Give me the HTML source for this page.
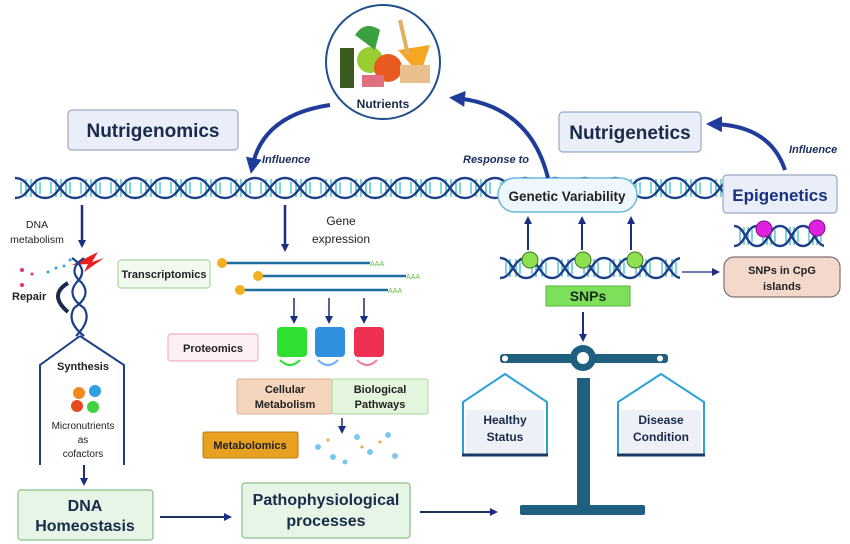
<!DOCTYPE html>
<html><head><meta charset="utf-8"><style>
html,body{margin:0;padding:0;background:#fff}
svg{display:block}
text{font-family:"Liberation Sans",sans-serif}
</style></head><body>
<svg width="850" height="544" viewBox="0 0 850 544" xmlns="http://www.w3.org/2000/svg">
<defs>
<pattern id="dna" x="15" y="176" width="60" height="24" patternUnits="userSpaceOnUse">
<g stroke="#2bb5c8" stroke-width="1.2"><line x1="6" y1="6" x2="6" y2="18"/><line x1="11" y1="3" x2="11" y2="21"/><line x1="16" y1="3" x2="16" y2="21"/><line x1="21" y1="3" x2="21" y2="21"/><line x1="25" y1="6" x2="25" y2="18"/><line x1="36" y1="6" x2="36" y2="18"/><line x1="41" y1="3" x2="41" y2="21"/><line x1="46" y1="3" x2="46" y2="21"/><line x1="51" y1="3" x2="51" y2="21"/><line x1="55" y1="6" x2="55" y2="18"/></g>
<path d="M0,2 C15,2 15,22 30,22 C45,22 45,2 60,2" fill="none" stroke="#1d3f8a" stroke-width="2.4"/>
<path d="M0,22 C15,22 15,2 30,2 C45,2 45,22 60,22" fill="none" stroke="#1d3f8a" stroke-width="2.4"/>
</pattern>
<pattern id="dna2" x="500" y="256" width="52" height="24" patternUnits="userSpaceOnUse">
<g stroke="#2bb5c8" stroke-width="1.2"><line x1="6" y1="6" x2="6" y2="18"/><line x1="10" y1="3" x2="10" y2="21"/><line x1="16" y1="3" x2="16" y2="21"/><line x1="20" y1="6" x2="20" y2="18"/><line x1="32" y1="6" x2="32" y2="18"/><line x1="36" y1="3" x2="36" y2="21"/><line x1="42" y1="3" x2="42" y2="21"/><line x1="46" y1="6" x2="46" y2="18"/></g>
<path d="M0,2 C13,2 13,22 26,22 C39,22 39,2 52,2" fill="none" stroke="#1d3f8a" stroke-width="2.4"/>
<path d="M0,22 C13,22 13,2 26,2 C39,2 39,22 52,22" fill="none" stroke="#1d3f8a" stroke-width="2.4"/>
</pattern>
<pattern id="dna3" x="734" y="224" width="46" height="24" patternUnits="userSpaceOnUse">
<g stroke="#2bb5c8" stroke-width="1.2"><line x1="6" y1="6" x2="6" y2="18"/><line x1="10" y1="3" x2="10" y2="21"/><line x1="14" y1="3" x2="14" y2="21"/><line x1="18" y1="6" x2="18" y2="18"/><line x1="29" y1="6" x2="29" y2="18"/><line x1="33" y1="3" x2="33" y2="21"/><line x1="37" y1="3" x2="37" y2="21"/><line x1="41" y1="6" x2="41" y2="18"/></g>
<path d="M0,2 C11.5,2 11.5,22 23,22 C34.5,22 34.5,2 46,2" fill="none" stroke="#1d3f8a" stroke-width="2.4"/>
<path d="M0,22 C11.5,22 11.5,2 23,2 C34.5,2 34.5,22 46,22" fill="none" stroke="#1d3f8a" stroke-width="2.4"/>
</pattern>
<marker id="ah" markerWidth="8" markerHeight="8" refX="6" refY="4" orient="auto" markerUnits="userSpaceOnUse"><path d="M0,0 L8,4 L0,8 Z" fill="#1a2f80"/></marker>
<marker id="ahb" markerWidth="16" markerHeight="16" refX="10" refY="8" orient="auto" markerUnits="userSpaceOnUse"><path d="M0,0 L16,8 L0,16 Z" fill="#1f3c9a"/></marker>
</defs>

<rect x="15" y="176" width="712" height="24" fill="url(#dna)"/>
<rect x="498" y="178" width="139" height="34" rx="17" fill="#eef8fc" stroke="#6bb8d8" stroke-width="1.5"/>
<text x="567" y="201" font-size="13.5" font-weight="bold" fill="#222" text-anchor="middle">Genetic Variability</text>

<circle cx="383" cy="62" r="57" fill="#fff" stroke="#1d4f8a" stroke-width="2"/>
<rect x="340" y="48" width="14" height="40" fill="#3a5a20"/>
<circle cx="370" cy="60" r="13" fill="#9acd32"/>
<circle cx="388" cy="68" r="14" fill="#e85a20"/>
<path d="M398,50 L430,45 L420,75 Z" fill="#f5a623"/>
<rect x="400" y="65" width="30" height="18" fill="#e8c090"/>
<rect x="362" y="75" width="22" height="12" fill="#e07080"/>
<path d="M355,35 Q365,20 380,30 L375,50 Z" fill="#3aa040"/>
<path d="M400,20 L408,55" stroke="#e0b060" stroke-width="4"/>
<text x="383" y="108" font-size="12" font-weight="bold" fill="#1a2a4a" text-anchor="middle">Nutrients</text>

<rect x="68" y="110" width="170" height="40" rx="4" fill="#e9eef8" stroke="#9aa8c0" stroke-width="1.2"/>
<text x="153" y="137" font-size="19" font-weight="bold" fill="#1a2a4a" text-anchor="middle">Nutrigenomics</text>
<rect x="559" y="112" width="142" height="40" rx="4" fill="#e9eef8" stroke="#9aa8c0" stroke-width="1.2"/>
<text x="630" y="139" font-size="19" font-weight="bold" fill="#1a2a4a" text-anchor="middle">Nutrigenetics</text>

<path d="M330,105 Q262,115 252,168" fill="none" stroke="#1f3c9a" stroke-width="4" marker-end="url(#ahb)"/>
<text x="262" y="163" font-size="11" font-style="italic" font-weight="bold" fill="#1a2f60">Influence</text>
<path d="M548,178 Q530,105 455,98" fill="none" stroke="#1f3c9a" stroke-width="4" marker-end="url(#ahb)"/>
<text x="463" y="163" font-size="11" font-style="italic" font-weight="bold" fill="#1a2f60">Response to</text>
<path d="M785,170 Q770,125 712,124" fill="none" stroke="#1f3c9a" stroke-width="4" marker-end="url(#ahb)"/>
<text x="789" y="153" font-size="11" font-style="italic" font-weight="bold" fill="#1a2f60">Influence</text>

<rect x="723" y="175" width="114" height="38" rx="4" fill="#e9eef8" stroke="#9aa8c0" stroke-width="1.2"/>
<text x="780" y="201" font-size="17" font-weight="bold" fill="#1a2f80" text-anchor="middle">Epigenetics</text>
<rect x="734" y="224" width="90" height="24" fill="url(#dna3)"/>
<circle cx="764" cy="229" r="8" fill="#e020e0" stroke="#80108a"/>
<circle cx="817" cy="228" r="8" fill="#e020e0" stroke="#80108a"/>

<rect x="500" y="256" width="180" height="24" fill="url(#dna2)"/>
<circle cx="530" cy="260" r="8" fill="#8de050" stroke="#3a7a20"/>
<circle cx="583" cy="260" r="8" fill="#8de050" stroke="#3a7a20"/>
<circle cx="635" cy="260" r="8" fill="#8de050" stroke="#3a7a20"/>
<g stroke="#1a2f80" stroke-width="2" marker-end="url(#ah)">
<line x1="528" y1="250" x2="528" y2="218"/><line x1="582" y1="250" x2="582" y2="218"/><line x1="631" y1="250" x2="631" y2="218"/>
<line x1="682" y1="272" x2="718" y2="272" stroke-width="1.2"/>
<line x1="583" y1="312" x2="583" y2="340"/>
</g>
<rect x="546" y="286" width="84" height="20" fill="#7de05a" stroke="#5ab040"/>
<text x="588" y="301" font-size="14" font-weight="bold" fill="#1a2a1a" text-anchor="middle">SNPs</text>
<rect x="724" y="257" width="116" height="40" rx="10" fill="#f3d8cc" stroke="#807070" stroke-width="1.2"/>
<text x="782" y="274" font-size="11" font-weight="bold" fill="#222" text-anchor="middle">SNPs in CpG</text>
<text x="782" y="290" font-size="11" font-weight="bold" fill="#222" text-anchor="middle">islands</text>

<rect x="500" y="354" width="168" height="9" rx="3" fill="#1f5f80"/>
<circle cx="505" cy="358.5" r="3" fill="#fff"/><circle cx="660" cy="358.5" r="3" fill="#fff"/>
<circle cx="583" cy="358" r="13" fill="#1f5f80"/><circle cx="583" cy="358" r="6" fill="#fff"/>
<rect x="577" y="378" width="13" height="132" fill="#1f5f80"/>
<rect x="520" y="505" width="125" height="10" rx="2" fill="#1f5f80"/>
<path d="M463,455 L463,402 L505,374 L547,402 L547,455" fill="none" stroke="#2a9fd8" stroke-width="2"/>
<rect x="466" y="410" width="78" height="44" fill="#eef0f8"/>
<line x1="462" y1="455" x2="548" y2="455" stroke="#1a3a60" stroke-width="3"/>
<text x="505" y="424" font-size="12" font-weight="bold" fill="#1a2a4a" text-anchor="middle">Healthy</text>
<text x="505" y="441" font-size="12" font-weight="bold" fill="#1a2a4a" text-anchor="middle">Status</text>
<path d="M618,455 L618,402 L661,374 L704,402 L704,455" fill="none" stroke="#2a9fd8" stroke-width="2"/>
<rect x="621" y="410" width="80" height="44" fill="#eef0f8"/>
<line x1="617" y1="455" x2="705" y2="455" stroke="#1a3a60" stroke-width="3"/>
<text x="661" y="424" font-size="12" font-weight="bold" fill="#1a2a4a" text-anchor="middle">Disease</text>
<text x="661" y="441" font-size="12" font-weight="bold" fill="#1a2a4a" text-anchor="middle">Condition</text>

<text x="37" y="228" font-size="10.5" fill="#222" text-anchor="middle">DNA</text>
<text x="37" y="243" font-size="10.5" fill="#222" text-anchor="middle">metabolism</text>
<line x1="82" y1="205" x2="82" y2="246" stroke="#1a2f80" stroke-width="2.5" marker-end="url(#ah)"/>
<path d="M72,265 L98,252 L92,262 L104,258 L84,272 L88,264 Z" fill="#e82020"/>
<g fill="#e8306a"><circle cx="22" cy="270" r="2"/><circle cx="32" cy="274" r="1.5"/><circle cx="22" cy="285" r="2"/></g>
<g fill="#30a8d8"><circle cx="48" cy="272" r="1.5"/><circle cx="56" cy="268" r="1.5"/><circle cx="64" cy="266" r="1.5"/><circle cx="70" cy="260" r="1.5"/></g>
<text x="12" y="300" font-size="11" font-weight="bold" fill="#222">Repair</text>
<path d="M68,283 Q48,295 68,312" fill="none" stroke="#1a2a4a" stroke-width="4"/>
<path d="M72,258 Q90,270 76,283 Q66,296 84,308 Q92,320 76,336 M84,258 Q66,270 82,283 Q92,296 74,308 Q66,322 84,336" fill="none" stroke="#1d3f8a" stroke-width="2.2"/>
<path d="M80,336 L40,365 L40,465 M80,336 L124,365 L124,465" fill="none" stroke="#1d3f8a" stroke-width="2"/>
<text x="83" y="370" font-size="11" font-weight="bold" fill="#222" text-anchor="middle">Synthesis</text>
<circle cx="79" cy="393" r="6" fill="#f08a20"/><circle cx="95" cy="391" r="6" fill="#30a0e0"/>
<circle cx="77" cy="406" r="6" fill="#e84a20"/><circle cx="93" cy="407" r="6" fill="#40d040"/>
<text x="83" y="429" font-size="10" fill="#222" text-anchor="middle">Micronutrients</text>
<text x="83" y="443" font-size="10" fill="#222" text-anchor="middle">as</text>
<text x="83" y="457" font-size="10" fill="#222" text-anchor="middle">cofactors</text>
<line x1="84" y1="465" x2="84" y2="484" stroke="#1a2f80" stroke-width="2" marker-end="url(#ah)"/>
<rect x="18" y="490" width="135" height="50" rx="3" fill="#e6f5e6" stroke="#8ac08a" stroke-width="1.2"/>
<text x="85" y="511" font-size="16" font-weight="bold" fill="#1a2a4a" text-anchor="middle">DNA</text>
<text x="85" y="531" font-size="16" font-weight="bold" fill="#1a2a4a" text-anchor="middle">Homeostasis</text>
<line x1="160" y1="517" x2="230" y2="517" stroke="#1a2f60" stroke-width="2" marker-end="url(#ah)"/>
<rect x="242" y="483" width="168" height="55" rx="3" fill="#e6f5e6" stroke="#8ac08a" stroke-width="1.2"/>
<text x="326" y="505" font-size="16" font-weight="bold" fill="#1a2a4a" text-anchor="middle">Pathophysiological</text>
<text x="326" y="526" font-size="16" font-weight="bold" fill="#1a2a4a" text-anchor="middle">processes</text>
<line x1="420" y1="512" x2="496" y2="512" stroke="#1a2f60" stroke-width="2" marker-end="url(#ah)"/>

<line x1="285" y1="205" x2="285" y2="250" stroke="#1a2f80" stroke-width="2.5" marker-end="url(#ah)"/>
<text x="341" y="225" font-size="12" fill="#222" text-anchor="middle">Gene</text>
<text x="341" y="243" font-size="12" fill="#222" text-anchor="middle">expression</text>
<rect x="118" y="260" width="92" height="28" rx="3" fill="#f2faf0" stroke="#a8d8a0" stroke-width="1.2"/>
<text x="164" y="278" font-size="11" font-weight="bold" fill="#222" text-anchor="middle">Transcriptomics</text>
<g stroke="#1d6fa0" stroke-width="2.5">
<line x1="222" y1="263" x2="370" y2="263"/><line x1="258" y1="276" x2="406" y2="276"/><line x1="240" y1="290" x2="388" y2="290"/></g>
<g fill="#f0b020"><circle cx="222" cy="263" r="5"/><circle cx="258" cy="276" r="5"/><circle cx="240" cy="290" r="5"/></g>
<g font-size="7" fill="#60c040"><text x="370" y="266">AAA</text><text x="406" y="279">AAA</text><text x="388" y="293">AAA</text></g>
<g stroke="#1a2f60" stroke-width="1.5" marker-end="url(#ah)">
<line x1="294" y1="298" x2="294" y2="322"/><line x1="329" y1="298" x2="329" y2="322"/><line x1="364" y1="298" x2="364" y2="322"/>
<line x1="342" y1="418" x2="342" y2="432"/></g>
<rect x="168" y="334" width="90" height="27" rx="3" fill="#fdf0f5" stroke="#f0b0c8" stroke-width="1.2"/>
<text x="213" y="352" font-size="11" font-weight="bold" fill="#222" text-anchor="middle">Proteomics</text>
<rect x="277" y="327" width="30" height="30" rx="4" fill="#30e030"/><path d="M280,360 q10,10 20,0" stroke="#30e030" fill="none" stroke-width="2"/>
<rect x="315" y="327" width="30" height="30" rx="4" fill="#3090e0"/><path d="M318,360 q10,10 20,0" stroke="#70b0f0" fill="none" stroke-width="2"/>
<rect x="354" y="327" width="30" height="30" rx="4" fill="#f03050"/><path d="M357,360 q10,10 20,0" stroke="#f080a0" fill="none" stroke-width="2"/>
<rect x="237" y="379" width="95" height="35" rx="2" fill="#f5d5bc" stroke="#d8b090" stroke-width="1"/>
<text x="285" y="393" font-size="11" font-weight="bold" fill="#222" text-anchor="middle">Cellular</text>
<text x="285" y="408" font-size="11" font-weight="bold" fill="#222" text-anchor="middle">Metabolism</text>
<rect x="332" y="379" width="96" height="35" rx="2" fill="#e3f5dc" stroke="#a8d8a0" stroke-width="1"/>
<text x="380" y="393" font-size="11" font-weight="bold" fill="#222" text-anchor="middle">Biological</text>
<text x="380" y="408" font-size="11" font-weight="bold" fill="#222" text-anchor="middle">Pathways</text>
<rect x="203" y="432" width="95" height="26" rx="2" fill="#e8a020" stroke="#c07810"/>
<text x="250" y="449" font-size="11" font-weight="bold" fill="#222" text-anchor="middle">Metabolomics</text>
<g fill="#7ac8f0"><circle cx="318" cy="447" r="3"/><circle cx="333" cy="457" r="3"/><circle cx="357" cy="437" r="3"/><circle cx="370" cy="452" r="3"/><circle cx="388" cy="435" r="3"/><circle cx="395" cy="456" r="3"/><circle cx="345" cy="462" r="2.5"/></g>
<g fill="#f0a040"><circle cx="328" cy="440" r="1.5"/><circle cx="362" cy="447" r="1.5"/><circle cx="380" cy="442" r="1.5"/></g>
</svg>
</body></html>
